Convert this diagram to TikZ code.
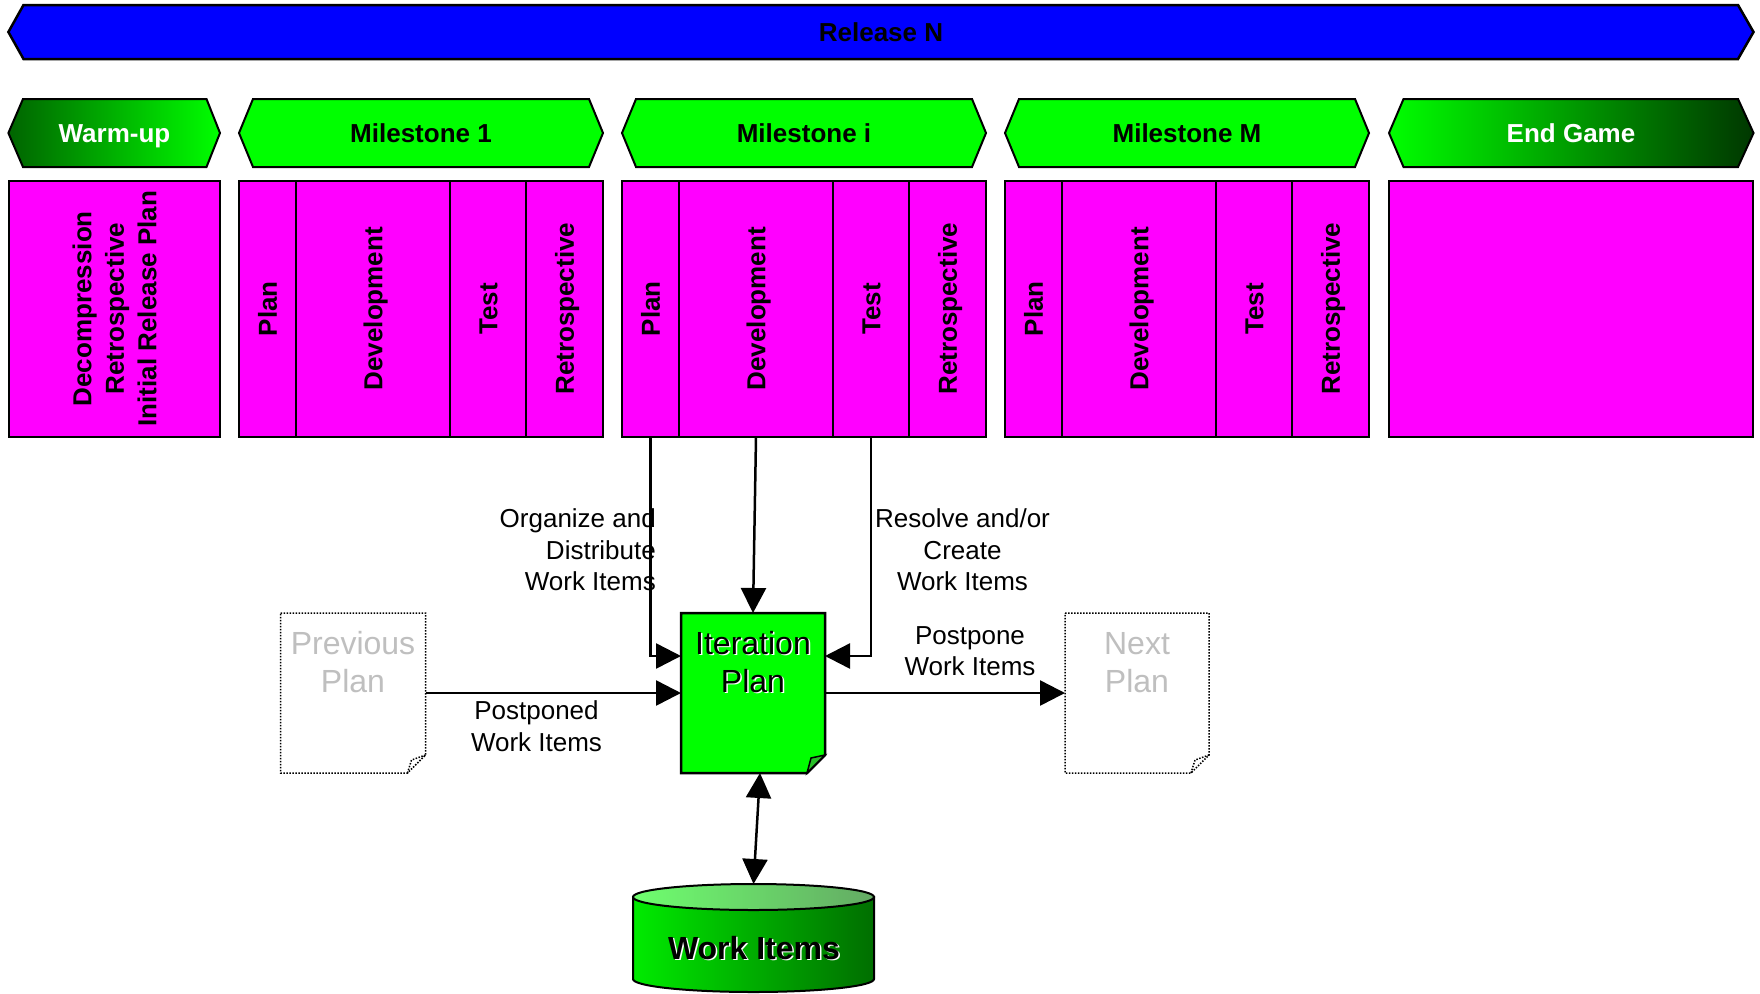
\documentclass[tikz,border=0pt]{standalone}
\usepackage{fontspec}
\setmainfont{Liberation Sans}
\usetikzlibrary{arrows.meta}
\definecolor{bannerblue}{RGB}{0,0,255}
\definecolor{cellpink}{RGB}{255,0,255}
\definecolor{msgreen}{RGB}{0,255,0}
\definecolor{darkgr}{RGB}{0,100,0}
\definecolor{endgr}{RGB}{0,55,0}
\definecolor{midgr}{RGB}{0,190,0}
\definecolor{ghost}{RGB}{191,191,191}
\definecolor{foldgr}{RGB}{40,190,40}
\definecolor{cylL}{RGB}{0,235,0}
\definecolor{cylR}{RGB}{0,110,0}
\definecolor{topL}{RGB}{110,255,110}
\definecolor{topR}{RGB}{100,170,100}
\tikzset{
  lbl/.style={font=\fontsize{26}{31.4}\selectfont, align=center, inner sep=0},
  hexlbl/.style={font=\fontsize{26}{31}\selectfont\bfseries, inner sep=0, text height=18.6pt, text depth=0pt},
  cell/.style={draw=black, line width=2pt, fill=cellpink, minimum height=256pt, inner sep=0, outer sep=0},
  celltxt/.style={rotate=90, font=\fontsize{26}{32.5}\selectfont\bfseries, inner sep=0, text height=18.6pt, text depth=0pt},
  wutxt/.style={rotate=90, font=\fontsize{26}{32.5}\selectfont\bfseries, align=center, inner sep=0},
  hexline/.style={draw=black, line width=2pt},
  arr/.style={line width=2.5pt, -{Triangle[length=25pt,width=25pt]}},
  dblarr/.style={line width=2.5pt, {Triangle[length=25pt,width=25pt]}-{Triangle[length=25pt,width=25pt]}},
  doc/.style={minimum height=160pt, inner sep=0, outer sep=0},
  bigtxt/.style={font=\fontsize{32}{38}\selectfont, align=center, inner sep=0},
  dots/.style={draw=black, line width=1.5pt, dash pattern=on 1.5pt off 1.5pt},
}
\begin{document}
\begin{tikzpicture}[x=1pt,y=-1pt]
\useasboundingbox (0,0) rectangle (1760,993);
\fill[white] (0,0) rectangle (1760,993);

% Release banner
\path[draw=black, line width=2.5pt, fill=bannerblue] (8.4,32) -- (23.5,5) -- (1738,5) -- (1753.5,32) -- (1738,59) -- (23.5,59) -- cycle;
\node[hexlbl] (release) at (881,32.5) {Release N};

% Warm-up
\shadedraw[left color=darkgr, right color=msgreen, line width=2pt] (8.4,133) -- (23,99) -- (206.5,99) -- (220,133) -- (206.5,167) -- (23,167) -- cycle;
\node[hexlbl, text=white] (warmup) at (114.5,133) {Warm-up};

% End game
\shadedraw[left color=msgreen, middle color=midgr, right color=endgr, line width=2pt] (1389,133) -- (1403.5,99) -- (1738,99) -- (1753.5,133) -- (1738,167) -- (1403.5,167) -- cycle;
\node[hexlbl, text=white] (endgame) at (1571,133) {End Game};

% Milestones
\foreach \m/\xl in {1/239, i/622, M/1005}{
  \path[hexline, fill=msgreen] (\xl,133) -- ({\xl+14},99) -- ({\xl+350},99) -- ({\xl+364},133) -- ({\xl+350},167) -- ({\xl+14},167) -- cycle;
  \node[hexlbl] (ms\m) at ({\xl+182},133) {Milestone \m};
}

% Cells
\node[cell, minimum width=211pt] (wu-cell) at (114.5,308.7) {};
\node[wutxt] (wu-t) at (wu-cell) {Decompression\\Retrospective\\Initial Release Plan};
\node[cell, minimum width=364pt] (eg-cell) at (1571,308.7) {};

\foreach \m/\o in {1/0, i/383, M/766}{
  \node[cell, minimum width=57pt] (m\m-plan) at ({267.5+\o},308.7) {};
  \node[cell, minimum width=154pt] (m\m-dev) at ({373+\o},308.7) {};
  \node[cell, minimum width=76pt] (m\m-test) at ({488+\o},308.7) {};
  \node[cell, minimum width=77pt] (m\m-retro) at ({564.5+\o},308.7) {};
  \node[celltxt] (m\m-plan-t) at (m\m-plan) {Plan};
  \node[celltxt] (m\m-dev-t) at (m\m-dev) {Development};
  \node[celltxt] (m\m-test-t) at (m\m-test) {Test};
  \node[celltxt] (m\m-retro-t) at (m\m-retro) {Retrospective};
}

% Documents
\node[doc, minimum width=144pt] (iter) at (753,693) {};
\path[draw=black, line width=2.5pt, fill=msgreen] (iter.north west) -- (iter.north east) -- ([yshift=18pt]iter.south east) -- ([xshift=-18pt]iter.south east) -- (iter.south west) -- cycle;
\path[draw=black, line width=1.5pt, fill=foldgr] ([xshift=-18pt]iter.south east) -- ([xshift=-14pt,yshift=15pt]iter.south east) -- ([yshift=18pt]iter.south east) -- cycle;
\node[bigtxt, text=white] (iter-sh) at (754.5,663.5) {Iteration\\Plan};
\node[bigtxt] (iter-t) at (753,662) {Iteration\\Plan};

\node[doc, minimum width=145pt] (prev) at (353,693) {};
\path[dots] (prev.north west) -- (prev.north east) -- ([yshift=18pt]prev.south east) -- ([xshift=-18pt]prev.south east) -- (prev.south west) -- cycle;
\path[dots] ([xshift=-18pt]prev.south east) -- ([xshift=-14pt,yshift=13pt]prev.south east) -- ([yshift=18pt]prev.south east);
\node[bigtxt, text=ghost] (prev-t) at (353,662) {Previous\\Plan};

\node[doc, minimum width=144pt] (next) at (1137,693) {};
\path[dots] (next.north west) -- (next.north east) -- ([yshift=18pt]next.south east) -- ([xshift=-18pt]next.south east) -- (next.south west) -- cycle;
\path[dots] ([xshift=-18pt]next.south east) -- ([xshift=-14pt,yshift=13pt]next.south east) -- ([yshift=18pt]next.south east);
\node[bigtxt, text=ghost] (next-t) at (1137,662.5) {Next\\Plan};

% Database cylinder
\node[minimum width=241pt, minimum height=108pt, inner sep=0, outer sep=0] (db) at (753.5,938) {};
\shadedraw[left color=cylL, right color=cylR, line width=2pt] (633,897) -- (633,979) arc[start angle=180, end angle=360, x radius=120.5pt, y radius=13pt] -- (874,897) -- cycle;
\shadedraw[left color=topL, right color=topR, line width=2pt] (753.5,897) ellipse[x radius=120.5pt, y radius=13pt];
\node[font=\fontsize{32}{38}\selectfont\bfseries, inner sep=0, text=white] (db-sh) at (755.5,949.5) {Work Items};
\node[font=\fontsize{32}{38}\selectfont\bfseries, inner sep=0] (db-t) at (754,948) {Work Items};

% Connectors
\draw[arr] (mi-plan.south) |- ([yshift=37pt]iter.west);
\draw[arr] (mi-dev.south) -- (iter.north);
\draw[arr] (mi-test.south) |- ([yshift=37pt]iter.east);
\draw[arr] (prev.east) -- (iter.west);
\draw[arr] (iter.east) -- (next.west);
\draw[dblarr] ([xshift=7pt]iter.south) -- (db.north);

% Labels
\node[lbl, anchor=east, align=right] (lbl-org) at (656,550) {Organize and\\Distribute\\Work Items};
\node[lbl] (lbl-res) at (962.5,550) {Resolve and/or\\Create\\Work Items};
\node[lbl] (lbl-pp) at (970,651) {Postpone\\Work Items};
\node[lbl] (lbl-ppd) at (536.5,726) {Postponed\\Work Items};
\end{tikzpicture}
\end{document}
